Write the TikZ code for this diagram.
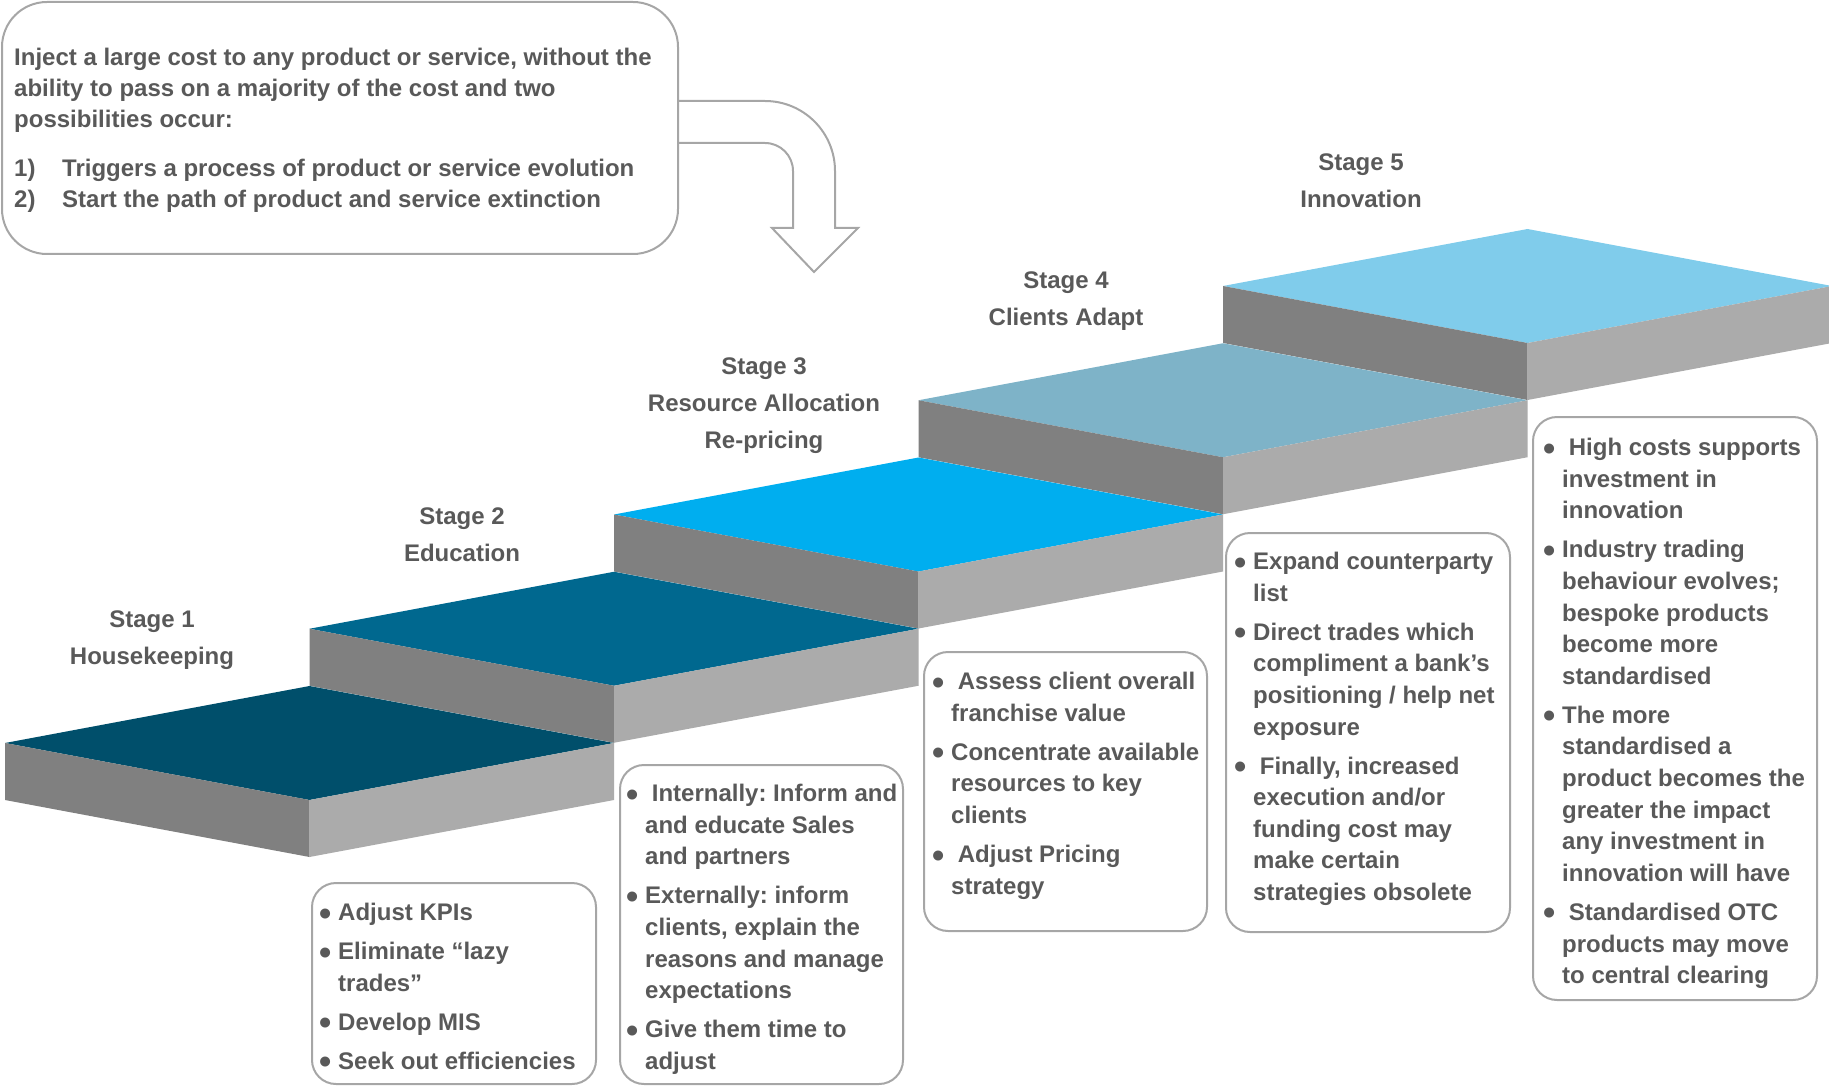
\documentclass[tikz,border=0pt]{standalone}
\usepackage{fontspec}
\setmainfont{Liberation Sans}
\usetikzlibrary{positioning}
\frenchspacing

\definecolor{stepa}{HTML}{004F6B}
\definecolor{stepb}{HTML}{00688F}
\definecolor{stepc}{HTML}{00AEEF}
\definecolor{stepd}{HTML}{7EB3C8}
\definecolor{stepe}{HTML}{80CCEB}
\definecolor{sidedark}{HTML}{808080}
\definecolor{sidelight}{HTML}{ABABAB}
\definecolor{txtgrey}{HTML}{595959}
\definecolor{linegrey}{HTML}{A6A6A6}

\newcommand{\bitem}{\makebox[15pt][l]{\hspace*{-4pt}\raisebox{-4.5pt}{\scalebox{1.45}{\textbullet}}}}
\newcommand{\bcont}{\hspace*{15pt}}

\begin{document}
\begin{tikzpicture}[
                    x=1pt,
                    y=-1pt,
                    stage/.style={align=center, anchor=north, inner sep=0pt, text=txtgrey,
                                  font=\fontsize{24}{37}\selectfont\bfseries},
                    notes/.style={align=left, inner sep=0pt, text=txtgrey,
                                  font=\fontsize{24}{31.6}\selectfont\bfseries},
                    notebox/.style={draw=linegrey, line width=2pt, rounded corners=24pt,
                                    anchor=north west, inner sep=0pt, outer sep=0pt},
                    arrowline/.style={draw=linegrey, line width=2pt, line join=miter}
                ]
                \useasboundingbox (0,0) rectangle (1829,1086);

                % the stairs, back to front
                \coordinate (s5) at (1223,286);
                \coordinate (s4) at (918.5,400.25);
                \coordinate (s3) at (614,514.5);
                \coordinate (s2) at (309.5,628.75);
                \coordinate (s1) at (5,743);

                \fill[stepe] (s5) -- ++(304.5,-57) -- ++(304.5,57) -- ++(-304.5,57) -- cycle;
                \fill[sidedark] (s5) -- ++(304.5,57) -- ++(0,57) -- ++(-304.5,-57) -- cycle;
                \fill[sidelight] (s5) ++(304.5,57) -- ++(304.5,-57) -- ++(0,57) -- ++(-304.5,57) -- cycle;

                \fill[stepd] (s4) -- ++(304.5,-57) -- ++(304.5,57) -- ++(-304.5,57) -- cycle;
                \fill[sidedark] (s4) -- ++(304.5,57) -- ++(0,57) -- ++(-304.5,-57) -- cycle;
                \fill[sidelight] (s4) ++(304.5,57) -- ++(304.5,-57) -- ++(0,57) -- ++(-304.5,57) -- cycle;

                \fill[stepc] (s3) -- ++(304.5,-57) -- ++(304.5,57) -- ++(-304.5,57) -- cycle;
                \fill[sidedark] (s3) -- ++(304.5,57) -- ++(0,57) -- ++(-304.5,-57) -- cycle;
                \fill[sidelight] (s3) ++(304.5,57) -- ++(304.5,-57) -- ++(0,57) -- ++(-304.5,57) -- cycle;

                \fill[stepb] (s2) -- ++(304.5,-57) -- ++(304.5,57) -- ++(-304.5,57) -- cycle;
                \fill[sidedark] (s2) -- ++(304.5,57) -- ++(0,57) -- ++(-304.5,-57) -- cycle;
                \fill[sidelight] (s2) ++(304.5,57) -- ++(304.5,-57) -- ++(0,57) -- ++(-304.5,57) -- cycle;

                \fill[stepa] (s1) -- ++(304.5,-57) -- ++(304.5,57) -- ++(-304.5,57) -- cycle;
                \fill[sidedark] (s1) -- ++(304.5,57) -- ++(0,57) -- ++(-304.5,-57) -- cycle;
                \fill[sidelight] (s1) ++(304.5,57) -- ++(304.5,-57) -- ++(0,57) -- ++(-304.5,57) -- cycle;

                % stage titles
                \node[stage] (stage-1) at (152,611) {Stage 1\\Housekeeping};
                \node[stage] (stage-2) at (462,508) {Stage 2\\Education};
                \node[stage] (stage-3) at (764,358) {Stage 3\\Resource Allocation\\Re-pricing};
                \node[stage] (stage-4) at (1066,272) {Stage 4\\Clients Adapt};
                \node[stage] (stage-5) at (1361,154) {Stage 5\\Innovation};

                % intro box and bent arrow
                \node[notebox, rounded corners=45pt, minimum width=676pt, minimum height=252pt] (intro) at (2,2) {};
                \node[notes, font=\fontsize{24}{31}\selectfont\bfseries, below right=46pt and 12pt of intro.north west] (intro-text)
                    {Inject a large cost to any product or service, without the\\
                     ability to pass on a majority of the cost and two\\
                     possibilities occur:\\[18pt]
                     \makebox[48pt][l]{1)}Triggers a process of product or service evolution\\
                     \makebox[48pt][l]{2)}Start the path of product and service extinction};

                \coordinate (tip) at (814,272);
                \draw[arrowline] (intro.east |- 0,101) -- (765,101) arc[start angle=90, end angle=0, radius=70pt]
                    -- (835,228) -- (858,228) -- (tip) -- (772,228) -- (793,228) -- (793,171)
                    arc[start angle=0, end angle=90, radius=28pt] -- (intro.east |- 0,143);

                % bullet boxes
                \node[notebox, minimum width=284pt, minimum height=201pt] (box-1) at (312,883) {};
                \node[notebox, minimum width=283pt, minimum height=319pt] (box-2) at (620,765) {};
                \node[notebox, minimum width=283pt, minimum height=279pt] (box-3) at (924,652) {};
                \node[notebox, minimum width=284pt, minimum height=399pt] (box-4) at (1226,533) {};
                \node[notebox, minimum width=284pt, minimum height=583pt] (box-5) at (1533,417) {};

                \node[notes, below right=20pt and 11pt of box-1.north west] (notes-1)
                    {\bitem Adjust KPIs\\[7.5pt]
                     \bitem Eliminate “lazy\\ \bcont trades”\\[7.5pt]
                     \bitem Develop MIS\\[7.5pt]
                     \bitem Seek out efficiencies};
                \node[notes, below right=19pt and 10pt of box-2.north west] (notes-2)
                    {\bitem\ Internally: Inform and\\ \bcont and educate Sales\\ \bcont and partners\\[7.5pt]
                     \bitem Externally: inform\\ \bcont clients, explain the\\ \bcont reasons and manage\\ \bcont expectations\\[7.5pt]
                     \bitem Give them time to\\ \bcont adjust};
                \node[notes, below right=20pt and 12pt of box-3.north west] (notes-3)
                    {\bitem\ Assess client overall\\ \bcont franchise value\\[7.5pt]
                     \bitem Concentrate available\\ \bcont resources to key\\ \bcont clients\\[7.5pt]
                     \bitem\ Adjust Pricing\\ \bcont strategy};
                \node[notes, below right=19pt and 12pt of box-4.north west] (notes-4)
                    {\bitem Expand counterparty\\ \bcont list\\[7.5pt]
                     \bitem Direct trades which\\ \bcont compliment a bank’s\\ \bcont positioning / help net\\ \bcont exposure\\[7.5pt]
                     \bitem\ Finally, increased\\ \bcont execution and/or\\ \bcont funding cost may\\ \bcont make certain\\ \bcont strategies obsolete};
                \node[notes, below right=21pt and 14pt of box-5.north west] (notes-5)
                    {\bitem\ High costs supports\\ \bcont investment in\\ \bcont innovation\\[7.5pt]
                     \bitem Industry trading\\ \bcont behaviour evolves;\\ \bcont bespoke products\\ \bcont become more\\ \bcont standardised\\[7.5pt]
                     \bitem The more\\ \bcont standardised a\\ \bcont product becomes the\\ \bcont greater the impact\\ \bcont any investment in\\ \bcont innovation will have\\[7.5pt]
                     \bitem\ Standardised OTC\\ \bcont products may move\\ \bcont to central clearing};
            \end{tikzpicture}
\end{document}
